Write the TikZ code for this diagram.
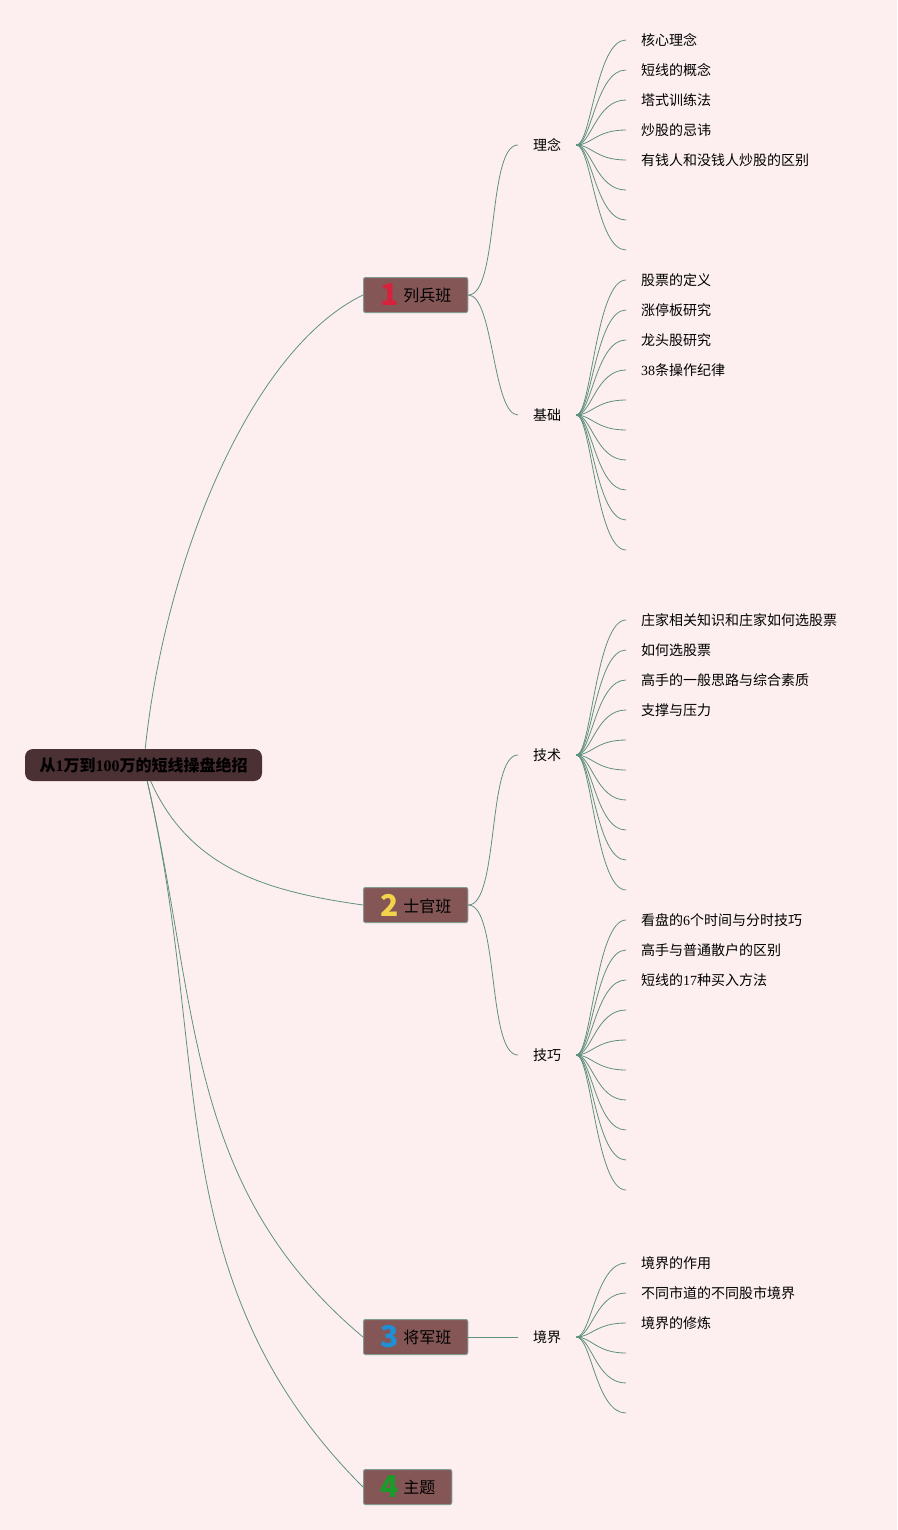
\documentclass[tikz,border=0pt]{standalone}
\usepackage{fontspec}
\setmainfont{Noto Sans CJK SC}
\newfontfamily\numfont{Liberation Serif}
\usepackage{tikz}
\definecolor{paper}{RGB}{253,239,239}
\definecolor{branchgreen}{RGB}{95,145,128}
\definecolor{rootfill}{RGB}{75,48,52}
\definecolor{classfill}{RGB}{132,86,86}
\definecolor{classline}{RGB}{127,154,142}
\definecolor{nred}{RGB}{216,33,60}
\definecolor{nyellow}{RGB}{242,211,74}
\definecolor{nblue}{RGB}{30,144,214}
\definecolor{ngreen}{RGB}{27,155,42}

\begin{document}
\begin{tikzpicture}[x=1pt, y=-1pt, root node/.style={rectangle, rounded corners=8pt, fill=rootfill, minimum width=237pt, minimum height=32pt, font=\fontsize{16}{18}\selectfont\bfseries}, class node/.style={rectangle, rounded corners=2pt, fill=classfill, draw=classline, line width=1pt, anchor=west, minimum height=35pt, inner xsep=16.5pt, font=\fontsize{16}{18}\selectfont}, topic node/.style={anchor=west, inner xsep=15pt, font=\fontsize{14}{16}\selectfont}, leaf node/.style={anchor=west, inner xsep=15pt, font=\fontsize{14}{16}\selectfont}, branch/.style={draw=branchgreen, line width=0.8pt}, fan/.style={out=0, in=180, out distance=15pt, in distance=30pt}]
	\fill[paper] (0,0) rectangle (897,1530);
	\node[root node] (R) at (143.5,765) {从{\numfont 1}万到{\numfont 100}万的短线操盘绝招};
	\node[class node] (B1) at (363,295) {\textcolor{nred}{\raisebox{-4pt}{\fontsize{30}{30}\selectfont\bfseries 1}}\hspace{5pt}列兵班};
	\node[class node] (B2) at (363,905) {\textcolor{nyellow}{\raisebox{-4pt}{\fontsize{30}{30}\selectfont\bfseries 2}}\hspace{5pt}士官班};
	\node[class node] (B3) at (363,1337) {\textcolor{nblue}{\raisebox{-4pt}{\fontsize{30}{30}\selectfont\bfseries 3}}\hspace{5pt}将军班};
	\node[class node] (B4) at (363,1487) {\textcolor{ngreen}{\raisebox{-4pt}{\fontsize{30}{30}\selectfont\bfseries 4}}\hspace{5pt}主题};
	\node[topic node] (T1) at (518,145) {理念};
	\node[topic node] (T2) at (518,415) {基础};
	\node[topic node] (T3) at (518,755) {技术};
	\node[topic node] (T4) at (518,1055) {技巧};
	\node[topic node] (T5) at (518,1337) {境界};
	\path[branch]
		(R) edge[out=84, in=206, out distance=189pt, in distance=126pt] (B1.west)
		(R) edge[out=-66, in=172] (B2.west)
		(R) edge[out=-77, in=140] (B3.west)
		(R) edge[out=-77, in=135] (B4.west)
		(B1.east) edge[out=0, in=180, looseness=0.5] (T1.west)
		(B1.east) edge[out=0, in=180, looseness=0.5] (T2.west)
		(B2.east) edge[out=0, in=180, looseness=0.5] (T3.west)
		(B2.east) edge[out=0, in=180, looseness=0.5] (T4.west)
		(B3.east) edge (T5.west);
	% leaves, 30pt apart
	\foreach \t [count=\i] in {核心理念, 短线的概念, 塔式训练法, 炒股的忌讳, 有钱人和没钱人炒股的区别, {}, {}, {}} {
		\node[leaf node] (L1-\i) at (626,{10+30*\i}) {\t};
		\path[branch] (T1.east) edge[fan] (L1-\i.west);
	}
	\foreach \t [count=\i] in {股票的定义, 涨停板研究, 龙头股研究, {\numfont 38}条操作纪律, {}, {}, {}, {}, {}, {}} {
		\node[leaf node] (L2-\i) at (626,{250+30*\i}) {\t};
		\path[branch] (T2.east) edge[fan] (L2-\i.west);
	}
	\foreach \t [count=\i] in {庄家相关知识和庄家如何选股票, 如何选股票, 高手的一般思路与综合素质, 支撑与压力, {}, {}, {}, {}, {}, {}} {
		\node[leaf node] (L3-\i) at (626,{590+30*\i}) {\t};
		\path[branch] (T3.east) edge[fan] (L3-\i.west);
	}
	\foreach \t [count=\i] in {看盘的{\numfont 6}个时间与分时技巧, 高手与普通散户的区别, 短线的{\numfont 17}种买入方法, {}, {}, {}, {}, {}, {}, {}} {
		\node[leaf node] (L4-\i) at (626,{890+30*\i}) {\t};
		\path[branch] (T4.east) edge[fan] (L4-\i.west);
	}
	\foreach \t [count=\i] in {境界的作用, 不同市道的不同股市境界, 境界的修炼, {}, {}, {}} {
		\node[leaf node] (L5-\i) at (626,{1233+30*\i}) {\t};
		\path[branch] (T5.east) edge[fan] (L5-\i.west);
	}
\end{tikzpicture}
\end{document}
